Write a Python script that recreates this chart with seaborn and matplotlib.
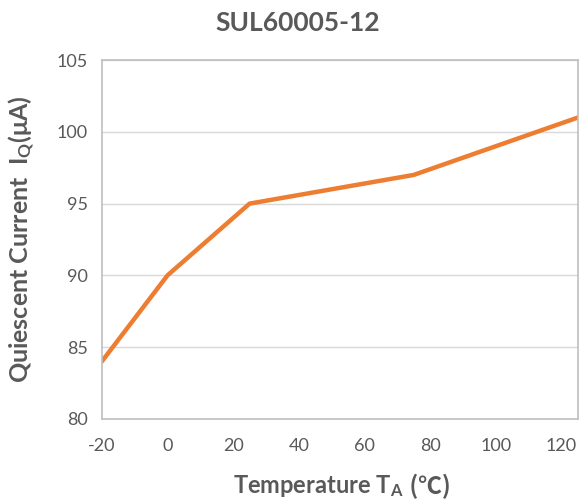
import seaborn as sns
import matplotlib
matplotlib.use("Agg")
import matplotlib.pyplot as plt
import pandas as pd

temps = [-20, 0, 25, 75, 125]
iq = [84, 90, 95, 97, 101]
x_ticks = [-20, 0, 20, 40, 60, 80, 100, 120]
y_ticks = [80, 85, 90, 95, 100, 105]

sns.set_style("white")
plt.rcParams['font.family'] = ['Lato', 'Noto Sans CJK SC', 'DejaVu Sans']
plt.rcParams['axes.unicode_minus'] = False
plt.rcParams['mathtext.fontset'] = 'custom'
plt.rcParams['mathtext.rm'] = 'Lato:bold'
plt.rcParams['mathtext.bf'] = 'Lato:bold'
plt.rcParams['mathtext.it'] = 'Lato:bold'
plt.rcParams['mathtext.default'] = 'bf'

grey = "#595959"
df = pd.DataFrame({"temp": temps, "iq": iq})

fig = plt.figure(figsize=(5.82, 5.01), dpi=100)
ax = fig.add_axes([0.175, 0.164, 0.818, 0.716])
sns.lineplot(data=df, x="temp", y="iq", color="#ED7D31", linewidth=3.2, ax=ax)

ax.set_xlim(-20, 125)
ax.set_ylim(80, 105)
ax.set_xticks(x_ticks)
ax.set_yticks(y_ticks)
ax.tick_params(labelsize=13, colors=grey, length=0)
ax.tick_params(axis="x", pad=14)
ax.tick_params(axis="y", pad=10)
ax.yaxis.grid(True, color="#D9D9D9", linewidth=1)
ax.set_axisbelow(True)
for s in ax.spines.values():
    s.set_color("#BFBFBF")
    s.set_linewidth(1.2)

fig.text(0.512, 0.955, "SUL60005-12", fontsize=19, fontweight="bold", color=grey,
         ha="center", va="center")
ax.set_xlabel("Temperature T$_A$", fontsize=17, fontweight="bold", color=grey)
ax.xaxis.set_label_coords(0.455, -0.15)
ax.annotate(" (℃)", xy=(1, 0), xycoords=ax.xaxis.label, xytext=(0, 0),
            textcoords="offset points", ha="left", va="bottom",
            fontsize=17, fontweight="bold", color=grey,
            family=['Noto Sans CJK SC', 'DejaVu Sans'])
ax.set_ylabel("Quiescent Current  I$_Q$(μA)", fontsize=18, fontweight="bold", color=grey, labelpad=14)

fig.savefig("out.png", dpi=100)
